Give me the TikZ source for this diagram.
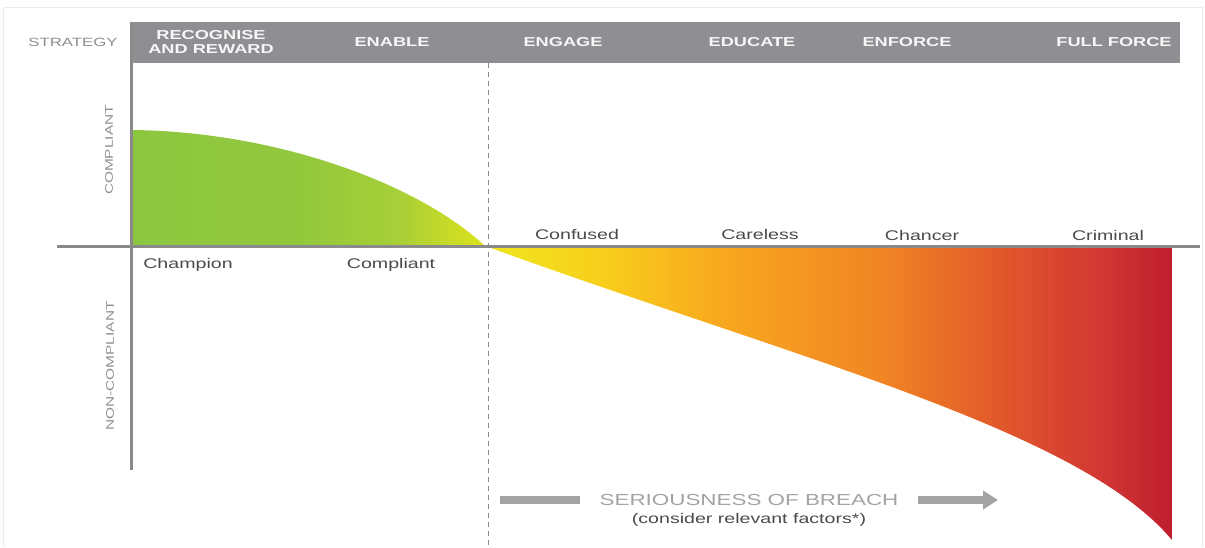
\documentclass[tikz,border=0pt]{standalone}
\usepackage{fontspec}
\setmainfont[FakeStretch=1.4]{Liberation Sans}
\usepackage{tikz}
\usetikzlibrary{arrows.meta,positioning}

\definecolor{barGray}{HTML}{8F8F93}
\definecolor{axisGray}{HTML}{8A8A8A}
\definecolor{labelGray}{HTML}{8E8E8E}
\definecolor{breachGray}{HTML}{A3A3A3}
\definecolor{textDark}{HTML}{4A4A4A}
\definecolor{champGreen}{HTML}{8CC63F}
\definecolor{midGreen}{HTML}{93C83D}
\definecolor{lightGreen}{HTML}{A8CF37}
\definecolor{limeYellow}{HTML}{DDE31C}
\definecolor{breachYellow}{HTML}{F0E51F}
\definecolor{breachGold}{HTML}{F8D01C}
\definecolor{breachAmber}{HTML}{F8A81E}
\definecolor{breachOrange}{HTML}{F08424}
\definecolor{breachRust}{HTML}{E25A2A}
\definecolor{breachCrimson}{HTML}{D13633}
\definecolor{breachRed}{HTML}{BF1E2E}

% fill of the compliant part
\pgfdeclarehorizontalshading{compliantshade}{100bp}{%
  color(0bp)=(champGreen); color(25bp)=(champGreen);
  color(49bp)=(midGreen); color(63bp)=(lightGreen);
  color(75bp)=(limeYellow); color(100bp)=(limeYellow)}

% fill of the non-compliant part
\pgfdeclarehorizontalshading{breachshade}{100bp}{%
  color(0bp)=(breachYellow); color(25bp)=(breachYellow);
  color(33bp)=(breachGold); color(42bp)=(breachAmber);
  color(54bp)=(breachOrange); color(62bp)=(breachRust);
  color(70bp)=(breachCrimson); color(75bp)=(breachRed);
  color(100bp)=(breachRed)}

\tikzset{
  axis/.style = {draw=axisGray, line width=3pt},
  divider/.style = {draw=axisGray, line width=0.7pt, dash pattern=on 5pt off 4pt},
  headlabel/.style = {text=white!94!gray, font=\fontsize{13}{14}\selectfont\bfseries, align=center},
  typelabel/.style = {text=textDark, font=\fontsize{14}{14}\selectfont},
  sidelabel/.style = {text=labelGray, font=\fontsize{11}{11}\selectfont, rotate=90},
  breachbar/.style = {draw=breachGray, line width=8pt}
}

\begin{document}
\begin{tikzpicture}[x=1pt, y=-1pt]
  \useasboundingbox (0,0) rectangle (1205,547);
  \draw[black!8] (3,547) -- (3,7) -- (1202,7) -- (1202,547);

  % coloured areas
  \shade[shading=compliantshade] (133,130) .. controls (280,132) and (420,185) .. (485,246) -- (133,246) -- cycle;
  \shade[shading=breachshade] (488,247) -- (1172,247) -- (1172,540) .. controls (1080,430) and (800,360) .. (488,247) -- cycle;

  % strategy bar
  \fill[barGray] (131,22) rectangle (1180,63);
  \node[text=labelGray, font=\fontsize{12}{12}\selectfont] (strategy) at (73,42) {STRATEGY};
  \node[headlabel] (recognise) at (211,42) {RECOGNISE\\AND REWARD};
  \node[headlabel] (enable) at (392,42) {ENABLE};
  \node[headlabel] (engage) at (563,42) {ENGAGE};
  \node[headlabel] (educate) at (752,42) {EDUCATE};
  \node[headlabel] (enforce) at (907,42) {ENFORCE};
  \node[headlabel] (fullforce) at (1114,42) {FULL FORCE};

  % axes
  \coordinate (vtop) at (131,22);
  \coordinate (vbot) at (131,470);
  \coordinate (hleft) at (57,246);
  \coordinate (hright) at (1200,246);
  \coordinate (dtop) at (488,63);
  \coordinate (dbot) at (488,547);
  \draw[divider] (dtop) -- (dbot);
  \draw[axis] (vtop) -- (vbot);
  \draw[axis] (hleft) -- (hright);

  \node[sidelabel] (compliant) at (109,150) {COMPLIANT};
  \node[sidelabel] (noncompliant) at (110,366) {NON-COMPLIANT};

  % types of client
  \node[typelabel] (champion) at (188,265) {Champion};
  \node[typelabel] (complianttype) at (391,265) {Compliant};
  \node[typelabel] (confused) at (577,234) {Confused};
  \node[typelabel] (careless) at (760,234) {Careless};
  \node[typelabel] (chancer) at (922,235) {Chancer};
  \node[typelabel] (criminal) at (1108,235) {Criminal};

  % seriousness arrow
  \node[text=breachGray, font=\fontsize{16}{16}\selectfont] (breach) at (749,500) {SERIOUSNESS OF BREACH};
  \node[text=textDark, font=\fontsize{14}{14}\selectfont, below=1pt of breach] (factors) {(consider relevant factors*)};
  \coordinate (barstart) at (500,500);
  \coordinate (bartip) at (998,500);
  \draw[breachbar] (barstart) -- ([xshift=-16pt]breach.west);
  \draw[breachbar, -{Triangle[length=15pt, width=18pt]}] ([xshift=16pt]breach.east) -- (bartip);

\end{tikzpicture}
\end{document}
